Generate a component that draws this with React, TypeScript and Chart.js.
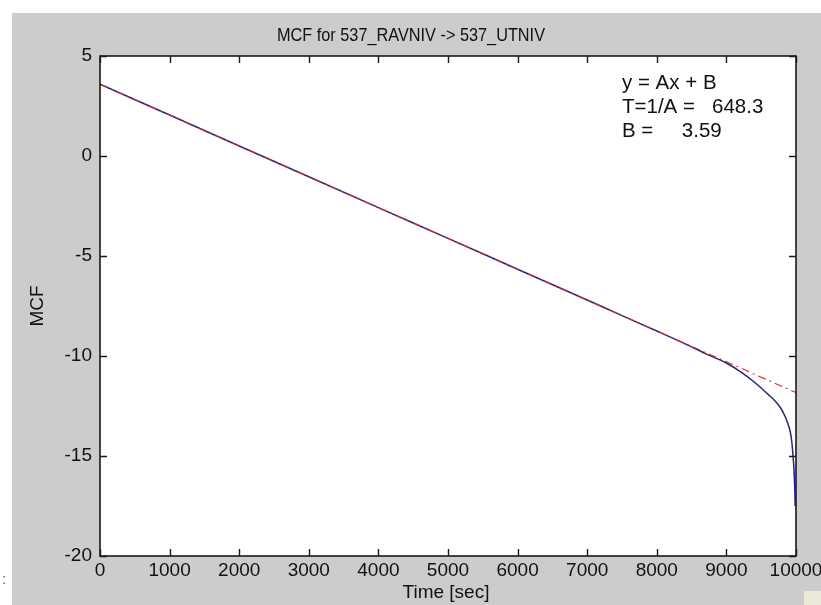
import React, { useEffect, useRef } from 'react';
import { Chart, registerables } from 'chart.js';

Chart.register(...registerables);

// ---- data ----
const chartTitle = 'MCF for 537_RAVNIV -> 537_UTNIV';
const xAxisTitle = 'Time [sec]';
const yAxisTitle = 'MCF';
const xTicks = [0, 1000, 2000, 3000, 4000, 5000, 6000, 7000, 8000, 9000, 10000];
const yTicks = [-20, -15, -10, -5, 0, 5];
const legendLines = ['y = Ax + B', 'T=1/A =   648.3', 'B =     3.59'];

const timeValues = [
  0, 1000, 2000, 3000, 4000, 5000, 6000, 7000, 7500, 8000, 8400, 8700, 9000,
  9200, 9400, 9600, 9700, 9780, 9840, 9880, 9915, 9940, 9955, 9968, 9978, 9985, 9988,
];
const mcfValues = [
  3.59, 2.05, 0.5, -1.04, -2.58, -4.12, -5.66, -7.2, -7.98, -8.75, -9.38, -9.88, -10.35,
  -10.78, -11.3, -11.92, -12.25, -12.6, -13.0, -13.35, -13.75, -14.3, -14.9, -15.5, -16.2, -16.9, -17.5,
];
const fitX = [0, 10000];
const fitY = [3.59, -11.83];

const FONT = '"Liberation Sans", Arial, sans-serif';

const matlabPlugin = {
  id: 'matlabLook',
  beforeDraw(chart: any) {
    const { ctx, chartArea: a } = chart;
    ctx.save();
    ctx.fillStyle = '#ffffff';
    ctx.fillRect(a.left, a.top, a.right - a.left, a.bottom - a.top);
    ctx.restore();
  },
  afterDraw(chart: any) {
    const { ctx, chartArea: a } = chart;
    const xs = chart.scales.x;
    const ys = chart.scales.y;
    ctx.save();
    // frame
    ctx.strokeStyle = '#1a1a1a';
    ctx.lineWidth = 1.6;
    ctx.strokeRect(a.left, a.top, a.right - a.left, a.bottom - a.top);
    // ticks
    const tl = 7;
    ctx.lineWidth = 1.4;
    ctx.beginPath();
    xTicks.forEach((v) => {
      const px = Math.round(xs.getPixelForValue(v)) + 0.5;
      ctx.moveTo(px, a.bottom);
      ctx.lineTo(px, a.bottom - tl);
      ctx.moveTo(px, a.top);
      ctx.lineTo(px, a.top + tl);
    });
    yTicks.forEach((v) => {
      const py = Math.round(ys.getPixelForValue(v)) + 0.5;
      ctx.moveTo(a.left, py);
      ctx.lineTo(a.left + tl, py);
      ctx.moveTo(a.right, py);
      ctx.lineTo(a.right - tl, py);
    });
    ctx.stroke();

    ctx.fillStyle = '#111111';
    ctx.font = '19px ' + FONT;
    // x tick labels
    ctx.textAlign = 'center';
    ctx.textBaseline = 'middle';
    xTicks.forEach((v) => {
      ctx.fillText(String(v), xs.getPixelForValue(v), a.bottom + 15);
    });
    // y tick labels
    ctx.textAlign = 'right';
    yTicks.forEach((v) => {
      ctx.fillText(String(v), a.left - 8, ys.getPixelForValue(v));
    });

    // title (slightly condensed, as in the original figure)
    ctx.font = '19px ' + FONT;
    ctx.textAlign = 'left';
    const tw = ctx.measureText(chartTitle).width;
    ctx.save();
    ctx.translate(265, 23);
    ctx.scale(268 / tw, 1);
    ctx.fillText(chartTitle, 0, 0);
    ctx.restore();

    // axis titles
    ctx.textAlign = 'center';
    ctx.fillText(xAxisTitle, (a.left + a.right) / 2 - 2, a.bottom + 37);
    ctx.save();
    ctx.translate(26, (a.top + a.bottom) / 2);
    ctx.rotate(-Math.PI / 2);
    ctx.fillText(yAxisTitle, 0, 0);
    ctx.restore();

    // fit text
    ctx.font = '20.5px ' + FONT;
    ctx.textAlign = 'left';
    legendLines.forEach((line, i) => {
      ctx.fillText(line, 610, 70 + i * 24);
    });
    ctx.restore();
  },
};

export default function App() {
  const ref = useRef<HTMLCanvasElement | null>(null);

  useEffect(() => {
    if (!ref.current) return;
    const chart = new Chart(ref.current, {
      type: 'line',
      data: {
        datasets: [
          {
            label: 'fit',
            data: fitX.map((x, i) => ({ x, y: fitY[i] })),
            borderColor: '#e02828',
            borderWidth: 1.1,
            borderDash: [8, 4, 2, 4],
            pointRadius: 0,
            tension: 0,
            order: 0,
          },
          {
            label: 'MCF',
            data: timeValues.map((x, i) => ({ x, y: mcfValues[i] })),
            borderColor: '#262677',
            borderWidth: 1.5,
            pointRadius: 0,
            cubicInterpolationMode: 'monotone',
            order: 1,
            segment: {
              borderColor: (c: any) => (c.p0.parsed.y < -15.2 ? '#1818a8' : undefined),
            },
          },
        ],
      },
      options: {
        responsive: false,
        animation: false,
        events: [],
        layout: { padding: { left: 88, right: 25, top: 43, bottom: 49 } },
        plugins: { legend: { display: false }, tooltip: { enabled: false }, title: { display: false } },
        scales: {
          x: { type: 'linear', min: 0, max: 10000, display: false },
          y: { type: 'linear', min: -20, max: 5, display: false },
        },
      } as any,
      plugins: [matlabPlugin],
    } as any);
    return () => chart.destroy();
  }, []);

  return (
    <div style={{ position: 'fixed', left: 0, top: 0, width: 821, height: 605, background: '#ffffff', overflow: 'hidden' }}>
      <div style={{ position: 'absolute', left: 12, top: 13, width: 809, height: 592, background: '#cccccc' }}>
        <canvas ref={ref} width={809} height={592} style={{ display: 'block', width: 809, height: 592 }} />
      </div>
      <div style={{ position: 'absolute', left: 2, top: 570, font: '15px ' + FONT, color: '#666' }}>:</div>
      <div style={{ position: 'absolute', left: 804, top: 591, width: 17, height: 14, background: '#ece9d8' }} />
    </div>
  );
}
